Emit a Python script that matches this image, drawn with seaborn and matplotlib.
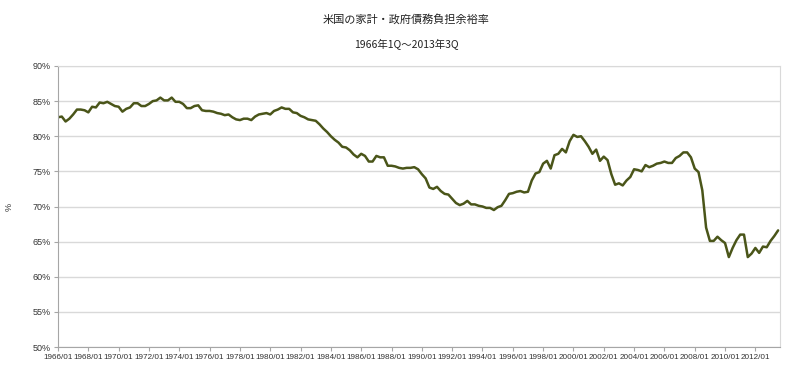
import matplotlib
matplotlib.use('Agg')
import matplotlib.pyplot as plt
import seaborn as sns
import numpy as np
import pandas as pd

# Quarterly ratio (%), 1966Q1 .. 2013Q3
ratio = [
    82.7, 82.8, 82.1, 82.5, 83.1, 83.8, 83.8, 83.7, 83.4, 84.2,
    84.1, 84.8, 84.7, 84.9, 84.6, 84.3, 84.2, 83.5, 83.9, 84.1,
    84.7, 84.7, 84.3, 84.3, 84.6, 85.0, 85.1, 85.5, 85.1, 85.1,
    85.5, 84.9, 84.9, 84.6, 84.0, 84.0, 84.3, 84.4, 83.7, 83.6,
    83.6, 83.5, 83.3, 83.2, 83.0, 83.1, 82.7, 82.4, 82.3, 82.5,
    82.5, 82.3, 82.8, 83.1, 83.2, 83.3, 83.1, 83.6, 83.8, 84.1,
    83.9, 83.9, 83.4, 83.3, 82.9, 82.7, 82.4, 82.3, 82.2, 81.7,
    81.1, 80.6, 80.0, 79.5, 79.1, 78.5, 78.4, 78.0, 77.4, 77.0,
    77.5, 77.2, 76.4, 76.4, 77.2, 77.0, 77.0, 75.8, 75.8, 75.7,
    75.5, 75.4, 75.5, 75.5, 75.6, 75.3, 74.6, 74.0, 72.7, 72.5,
    72.8, 72.2, 71.8, 71.7, 71.1, 70.5, 70.2, 70.4, 70.8, 70.3,
    70.3, 70.1, 70.0, 69.8, 69.8, 69.5, 69.9, 70.1, 70.9, 71.8,
    71.9, 72.1, 72.2, 72.0, 72.1, 73.7, 74.7, 74.9, 76.1, 76.5,
    75.4, 77.3, 77.5, 78.2, 77.7, 79.3, 80.2, 79.9, 80.0, 79.3,
    78.5, 77.5, 78.1, 76.5, 77.1, 76.6, 74.6, 73.1, 73.3, 73.0,
    73.7, 74.2, 75.3, 75.2, 75.0, 75.9, 75.6, 75.8, 76.1, 76.2,
    76.4, 76.2, 76.2, 76.9, 77.2, 77.7, 77.7, 77.0, 75.4, 74.9,
    72.3, 67.0, 65.1, 65.1, 65.7, 65.2, 64.8, 62.8, 64.1, 65.2,
    66.0, 66.0, 62.8, 63.3, 64.1, 63.4, 64.3, 64.2, 65.1, 65.8,
    66.6,
]
quarter_labels = [f'{1966 + i // 4}/{(i % 4) * 3 + 1:02d}' for i in range(len(ratio))]
y_ticks = [50, 55, 60, 65, 70, 75, 80, 85, 90]

df = pd.DataFrame({'idx': np.arange(len(ratio)), 'ratio': ratio, 'label': quarter_labels})

sns.set_style('white')
plt.rcParams['font.family'] = ['Liberation Sans', 'DejaVu Sans']

fig = plt.figure(figsize=(8, 3.81), dpi=100)
ax = fig.add_axes([0.0725, 0.0892, 0.9025, 0.7376])

sns.lineplot(data=df, x='idx', y='ratio', ax=ax, color='#4a5519', linewidth=1.8)

ax.set_xlim(0, len(ratio) - 0.5)
ax.set_ylim(50, 90)
ax.set_yticks(y_ticks)
ax.set_yticklabels([f'{v}%' for v in y_ticks])
ax.set_xticks(df['idx'][::8])
ax.set_xticklabels(df['label'][::8])

ax.grid(axis='y', color='#d9d9d9', linewidth=1)
ax.set_axisbelow(True)
for side in ['top', 'right']:
    ax.spines[side].set_color('#d9d9d9')
for side in ['left', 'bottom']:
    ax.spines[side].set_color('#a6a6a6')
ax.tick_params(axis='both', which='major', length=3, width=0.8, color='#a6a6a6',
               labelcolor='#333333', pad=2, bottom=True, left=True)
ax.tick_params(axis='x', labelsize=5.9)
ax.tick_params(axis='y', labelsize=6.5)

ax.set_xlabel('')
ax.set_ylabel('%', fontsize=6.5, color='#333333')
ax.yaxis.set_label_coords(-0.062, 0.5)

cjk = ['Noto Sans CJK JP', 'DejaVu Sans']
fig.text(0.508, 0.948, '米国の家計・政府債務負担余裕率', ha='center', va='center',
         fontsize=8, color='#222222', family=cjk)
fig.text(0.508, 0.883, '1966年1Q～2013年3Q', ha='center', va='center',
         fontsize=7.5, color='#222222', family=cjk)

fig.savefig('out.png', dpi=100)
